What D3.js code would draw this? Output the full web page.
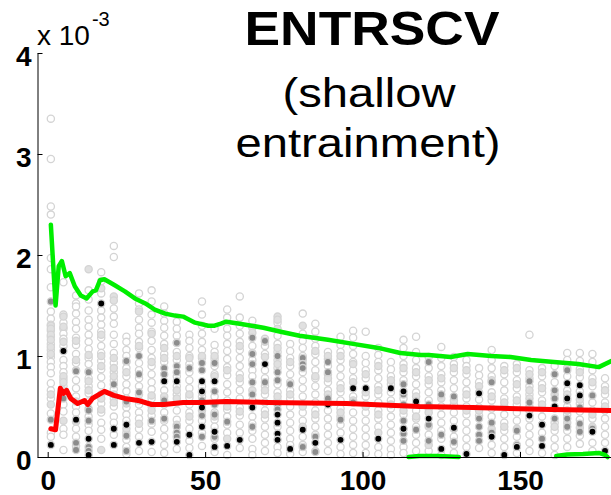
<!DOCTYPE html>
<html>
<head>
<meta charset="utf-8">
<script src="https://cdn.jsdelivr.net/npm/d3@7"></script>
<style>
    body { margin: 0; background: #fff; }
    svg#graph { width: 611px; height: 495px; display: block; }
    .axis path, .axis line { stroke: #000; stroke-width: 1; }
    .axis text { font-family: "Liberation Sans", Arial, sans-serif; font-weight: bold; font-size: 28px; fill: #000; }
    .line { fill: none; stroke-linejoin: round; stroke-linecap: round; }
    .line.upper, .line.low { stroke: #00ee00; stroke-width: 4.5; }
    .line.mean { stroke: #ff0000; stroke-width: 5; }
    .title text { font-family: "Liberation Sans", Arial, sans-serif; fill: #000; text-anchor: middle; }
</style>
</head>
<body>
<svg id="graph"></svg>
<script>
// scatter columns (x) and values per column, in units of 1e-3
var colX = [1, 5, 9, 13, 17, 21, 25, 29, 33, 37, 41, 45, 49, 53, 57, 61, 65, 69, 73, 77, 81, 85, 89,
    93, 97, 101, 105, 109, 113, 117, 121, 125, 129, 133, 137, 141, 145, 149, 153, 157, 161, 165, 169, 173, 177];

var openVals = [
    [3.35, 2.95, 2.48, 2.40, 1.97, 1.86, 1.68, 1.44, 1.37, 1.31, 1.25, 1.19, 1.12, 1.06, 0.99, 0.94, 0.89, 0.83, 0.73, 0.66, 0.58, 0.43, 0.24, 0.20],
    [1.73, 1.41, 1.33, 1.27, 1.22, 1.17, 1.10, 0.96, 0.90, 0.84, 0.77, 0.70, 0.61, 0.52, 0.45, 0.28, 0.22, 0.07],
    [1.60, 1.52, 1.49, 1.42, 1.34, 1.27, 1.18, 1.11, 1.02, 0.93, 0.86, 0.76, 0.68, 0.60, 0.50, 0.44, 0.28, 0.20, 0.11],
    [1.65, 1.56, 1.45, 1.36, 1.29, 1.21, 1.14, 1.07, 0.98, 0.92, 0.85, 0.78, 0.70, 0.63, 0.55, 0.40, 0.32, 0.26],
    [1.83, 1.74, 1.62, 1.45, 1.38, 1.31, 1.24, 1.18, 1.10, 1.03, 0.95, 0.87, 0.79, 0.71, 0.62, 0.53, 0.44, 0.34, 0.27, 0.18],
    [2.09, 1.98, 1.47, 1.39, 1.32, 1.21, 1.12, 1.03, 0.93, 0.84, 0.76, 0.67, 0.58, 0.50, 0.40, 0.34, 0.22],
    [1.19, 1.14, 1.06, 1.00, 0.94, 0.88, 0.80, 0.72, 0.65, 0.58, 0.49, 0.42, 0.36, 0.24, 0.17, 0.10, 0.03],
    [1.62, 1.52, 1.46, 1.36, 1.28, 1.22, 1.14, 1.08, 0.93, 0.86, 0.78, 0.70, 0.62, 0.52, 0.44, 0.38, 0.28, 0.20, 0.06],
    [1.65, 1.54, 1.41, 1.33, 1.24, 1.15, 1.06, 0.98, 0.90, 0.82, 0.74, 0.67, 0.58, 0.50, 0.41, 0.33, 0.25, 0.05],
    [1.49, 1.42, 1.35, 1.28, 1.20, 1.12, 1.02, 0.94, 0.66, 0.52, 0.44, 0.36, 0.28, 0.20, 0.12, 0.04],
    [1.34, 1.27, 1.20, 1.13, 1.04, 0.96, 0.80, 0.70, 0.62, 0.54, 0.46, 0.37, 0.08],
    [1.21, 1.15, 1.08, 1.00, 0.92, 0.84, 0.76, 0.68, 0.59, 0.52, 0.44, 0.36, 0.28, 0.16, 0.09],
    [1.54, 1.41, 1.30, 1.22, 1.14, 1.06, 0.98, 0.70, 0.60, 0.36, 0.24, 0.11],
    [1.27, 1.11, 1.04, 0.97, 0.90, 0.82, 0.60, 0.44, 0.37, 0.30, 0.18, 0.05],
    [1.46, 1.38, 1.27, 1.20, 1.12, 1.05, 0.97, 0.89, 0.81, 0.72, 0.64, 0.56, 0.47, 0.40, 0.32, 0.24, 0.02],
    [1.59, 1.38, 1.30, 1.22, 1.14, 1.06, 0.98, 0.90, 0.82, 0.74, 0.66, 0.58, 0.49, 0.41, 0.32, 0.24, 0.09],
    [1.35, 1.10, 1.03, 0.96, 0.86, 0.80, 0.56, 0.40, 0.33, 0.26, 0.18, 0.08, 0.02],
    [1.17, 1.10, 1.02, 0.86, 0.78, 0.70, 0.62, 0.54, 0.46, 0.38, 0.30, 0.22, 0.14, 0.06],
    [1.33, 1.20, 1.12, 1.04, 0.96, 0.88, 0.72, 0.64, 0.56, 0.30, 0.10, 0.04],
    [1.12, 1.05, 0.98, 0.90, 0.82, 0.74, 0.66, 0.58, 0.50, 0.42, 0.34, 0.26, 0.18, 0.12, 0.03],
    [1.42, 1.22, 1.15, 1.08, 1.00, 0.84, 0.76, 0.68, 0.60, 0.52, 0.44, 0.36, 0.20, 0.12, 0.05],
    [1.32, 1.24, 1.17, 1.10, 1.02, 0.94, 0.86, 0.78, 0.70, 0.62, 0.54, 0.46, 0.38, 0.30, 0.22, 0.06],
    [1.04, 0.97, 0.90, 0.82, 0.74, 0.66, 0.46, 0.38, 0.30, 0.22, 0.14, 0.06],
    [1.19, 1.11, 1.04, 0.96, 0.88, 0.80, 0.72, 0.64, 0.56, 0.48, 0.40, 0.32, 0.24, 0.10, 0.03],
    [1.25, 1.18, 1.10, 1.02, 0.94, 0.86, 0.78, 0.60, 0.44, 0.36, 0.28, 0.20, 0.12, 0.04],
    [1.24, 1.00, 0.93, 0.86, 0.78, 0.60, 0.52, 0.44, 0.36, 0.28, 0.20, 0.12, 0.04],
    [1.08, 1.01, 0.94, 0.86, 0.78, 0.70, 0.62, 0.54, 0.46, 0.38, 0.30, 0.10, 0.03],
    [0.94, 0.87, 0.80, 0.72, 0.64, 0.56, 0.48, 0.40, 0.32, 0.24, 0.16, 0.08, 0.02],
    [1.16, 1.08, 1.00, 0.92, 0.84, 0.76, 0.58, 0.42, 0.10, 0.04],
    [1.19, 1.04, 0.96, 0.88, 0.80, 0.72, 0.64, 0.46, 0.38, 0.30, 0.22, 0.14, 0.06],
    [0.99, 0.88, 0.80, 0.72, 0.64, 0.56, 0.48, 0.22, 0.06],
    [1.09, 0.98, 0.90, 0.82, 0.74, 0.66, 0.50, 0.42, 0.34, 0.26, 0.18, 0.02],
    [0.99, 0.92, 0.84, 0.76, 0.68, 0.52, 0.44, 0.36, 0.20, 0.12, 0.04],
    [0.96, 0.90, 0.82, 0.74, 0.66, 0.58, 0.50, 0.42, 0.34, 0.26, 0.18, 0.10],
    [0.88, 0.81, 0.74, 0.57, 0.49, 0.41, 0.09],
    [1.06, 0.96, 0.88, 0.80, 0.64, 0.56, 0.48, 0.40, 0.12, 0.04],
    [0.90, 0.82, 0.74, 0.66, 0.58, 0.50, 0.42, 0.34, 0.26, 0.18, 0.10],
    [0.92, 0.84, 0.76, 0.68, 0.60, 0.52, 0.44, 0.36, 0.20, 0.04],
    [1.21, 0.86, 0.78, 0.70, 0.62, 0.46, 0.38, 0.30, 0.22, 0.14, 0.06],
    [0.88, 0.80, 0.72, 0.64, 0.56, 0.48, 0.40, 0.24, 0.04],
    [0.90, 0.74, 0.34, 0.26, 0.18, 0.10, 0.02],
    [1.03, 0.96, 0.88, 0.80, 0.66, 0.50, 0.42, 0.26, 0.18, 0.10],
    [1.03, 0.95, 0.87, 0.79, 0.65, 0.53, 0.45, 0.37, 0.21, 0.13],
    [1.02, 0.94, 0.86, 0.78, 0.70, 0.54, 0.46, 0.38, 0.14, 0.06],
    [0.78, 0.70, 0.62, 0.54, 0.46, 0.38, 0.30, 0.22, 0.14]
];

var paleVals = [
    [1.30, 1.27, 1.21, 1.16, 1.09, 1.02, 0.62, 0.52],
    [1.39, 1.29, 1.14, 0.80, 0.74, 0.66, 0.36],
    [1.15, 0.96, 0.55, 0.35],
    [1.86, 1.01, 0.75, 0.66],
    [1.67, 1.21, 1.00, 0.90, 0.58, 0.47, 0.07],
    [1.59, 1.55, 0.98, 0.88, 0.80, 0.62, 0.54],
    [0.84, 0.53, 0.28],
    [1.44, 1.10, 0.56, 0.33],
    [1.22, 0.94, 0.61, 0.46],
    [1.08, 0.98, 0.60],
    [1.00, 0.66, 0.58, 0.32],
    [0.98, 0.62, 0.40],
    [1.00, 0.46, 0.64],
    [1.00, 0.80, 0.40],
    [0.86, 0.50, 0.18],
    [1.10, 0.78, 0.45],
    [1.28, 1.23, 0.66, 0.50],
    [1.14, 0.99, 0.66, 0.42],
    [1.39, 1.36, 1.27, 1.08, 0.92, 0.60],
    [0.94, 0.62],
    [1.30, 0.96, 0.50, 0.30],
    [1.05, 0.80, 0.42],
    [1.00, 0.78, 0.62],
    [1.00, 0.68, 0.44],
    [0.92, 0.74, 0.56],
    [0.82, 0.50, 0.64],
    [0.90, 0.66, 0.42, 0.24],
    [0.76, 0.52],
    [0.88, 0.46, 0.28],
    [0.84, 0.60, 0.40],
    [0.76, 0.44, 0.30, 0.12],
    [0.78, 0.58],
    [0.88, 0.56, 0.28],
    [0.86, 0.62, 0.46],
    [0.70, 0.46, 0.64],
    [0.76, 0.60, 0.28],
    [0.86, 0.54, 0.30],
    [0.88, 0.72, 0.56, 0.28],
    [0.82, 0.66, 0.58, 0.50],
    [0.84, 0.68, 0.52],
    [0.62, 0.30, 0.48],
    [0.62, 0.46, 0.34],
    [0.84, 0.57, 0.29],
    [0.74, 0.42, 0.30],
    [0.66, 0.50]
];

var midVals = [
    [1.54, 0.37], [0.58], [0.85, 0.14, 0.07], [0.84, 0.48, 0.46, 0.36, 0.10, 0.06], [], [0.72], [0.95, 0.55, 0.21, 0.06],
    [1.00, 0.82, 0.64], [0.36], [0.88, 0.82, 0.56, 0.38], [1.13, 0.90, 0.84, 0.30, 0.24, 0.20], [0.88],
    [0.93, 0.86, 0.56, 0.41, 0.20], [0.93, 0.65, 0.52, 0.42, 0.20], [0.35], [], [1.18, 1.02, 0.92, 0.74, 0.62, 0.30],
    [1.15, 0.74], [1.00, 0.84, 0.76, 0.52, 0.47], [0.72], [0.98, 0.92, 0.88, 0.10], [0.20, 0.05],
    [0.94, 0.84, 0.58], [0.37], [0.54], [], [], [], [0.72, 0.62, 0.52, 0.36, 0.23, 0.16], [0.27],
    [0.94, 0.52, 0.32, 0.16], [0.62, 0.22], [0.60, 0.28, 0.15], [], [0.38, 0.30, 0.22, 0.16], [0.74, 0.34, 0.24],
    [], [0.26, 0.12], [0.75, 0.54], [0.32, 0.18], [0.82, 0.66, 0.58, 0.38], [0.86, 0.56, 0.38, 0.30],
    [0.49, 0.33, 0.25], [0.61, 0.28], []
];

var blackVals = [
    [0.12], [1.05], [0.37], [0.18, 0.02], [1.52], [0.28, 0.12], [0.32], [0.14], [0.15], [0.75], [0.75, 0.15],
    [0.22, 0.02], [0.75, 0.65, 0.49, 0.30], [0.75, 0.25, 0.10], [0.11], [0.17], [0.49], [0.92],
    [0.42, 0.34, 0.23, 0.17], [0.08], [0.27], [0.14], [0.52], [0.17], [0.68], [0.68], [0.18], [0.68],
    [0.65, 0.28], [0.55], [0.38], [0.08], [0.29], [0.03], [0.63], [0.20], [0.02], [0.10], [0.41],
    [0.32, 0.11], [0.50], [0.73, 0.58], [0.71, 0.61], [0.25], [0.06]
];

// running lines
var upperX = [1, 2.5, 3.5, 4.5, 5.7, 7, 8.6, 10.5, 12.4, 13.2, 14.3, 15.3, 16.6, 18, 21.3, 24.5, 27.7, 31, 34, 37.3,
    40.4, 43, 46.8, 51, 53, 55, 56.7, 61, 68.5, 74, 80, 89, 97, 105, 112, 118.5, 121, 128, 133.4, 140.8, 147,
    153.5, 160.8, 168.5, 175, 179];
var upperY = [2.30, 1.50, 1.89, 1.94, 1.79, 1.82, 1.69, 1.60, 1.57, 1.60, 1.64, 1.65, 1.75, 1.76, 1.70, 1.64, 1.57,
    1.52, 1.46, 1.42, 1.40, 1.39, 1.33, 1.30, 1.30, 1.32, 1.34, 1.32, 1.28, 1.24, 1.20, 1.16, 1.12, 1.08, 1.03,
    1.01, 1.01, 0.99, 1.02, 1.00, 0.99, 0.96, 0.94, 0.92, 0.89, 0.95];

var meanX = [1, 2.5, 4, 5, 6, 7.3, 9.5, 11.7, 12.7, 14.2, 18, 21, 24.5, 28.7, 33, 37, 43, 49, 56.7, 70, 95, 118, 135, 160, 179];
var meanY = [0.28, 0.27, 0.68, 0.63, 0.66, 0.58, 0.53, 0.56, 0.52, 0.58, 0.65, 0.61, 0.58, 0.56, 0.52, 0.52, 0.54,
    0.54, 0.55, 0.54, 0.53, 0.50, 0.49, 0.47, 0.46];

var lowAX = [114.6, 118, 124, 130.6];
var lowAY = [0.00, 0.01, 0.01, 0.00];
var lowBX = [161.5, 165, 170, 175, 177, 177.8];
var lowBY = [0.01, 0.025, 0.03, 0.04, 0.02, 0.00];

var yTicks = [0, 1, 2, 3, 4];
var xTicks = [0, 50, 100, 150];

var graph = (function () {
    function create() {
        var svg = d3.select("svg#graph");

        var x = d3.scaleLinear().domain([-3.24, 178.9]).range([37.5, 611]),
            y = d3.scaleLinear().domain([0, 4]).range([457, 53]);

        // flatten the columns into points, light ones first
        var points = [];
        var shades = [
            {vals: openVals, fill: "#ffffff"},
            {vals: paleVals, fill: "#e0e0e0"},
            {vals: midVals, fill: "#8c8c8c"},
            {vals: blackVals, fill: "#000000"}
        ];
        shades.forEach(function (s) {
            colX.forEach(function (cx, i) {
                s.vals[i].forEach(function (v) {
                    points.push({x: cx, v: v, fill: s.fill});
                });
            });
        });

        svg.append("g")
            .attr("class", "points")
            .selectAll("circle")
            .data(points)
            .enter().append("circle")
            .attr("cx", function (d) { return x(d.x); })
            .attr("cy", function (d) { return y(d.v); })
            .attr("r", 3.6)
            .attr("fill", function (d) { return d.fill; })
            .attr("stroke", "#d4d4d4")
            .attr("stroke-width", 1.3);

        var line = d3.line()
            .x(function (d) { return x(d[0]); })
            .y(function (d) { return y(d[1]); });

        svg.append("path")
            .attr("class", "line upper")
            .attr("d", line(d3.zip(upperX, upperY)));

        svg.append("path")
            .attr("class", "line mean")
            .attr("d", line(d3.zip(meanX, meanY)));

        svg.append("path")
            .attr("class", "line low")
            .attr("d", line(d3.zip(lowAX, lowAY)));

        svg.append("path")
            .attr("class", "line low")
            .attr("d", line(d3.zip(lowBX, lowBY)));

        // axes, MATLAB style: ticks point inward
        var xAxis = d3.axisBottom(x).tickValues(xTicks).tickFormat(d3.format("d"))
                .tickSizeInner(-5).tickSizeOuter(0).tickPadding(13),
            yAxis = d3.axisLeft(y).tickValues(yTicks).tickFormat(d3.format("d"))
                .tickSizeInner(-5).tickSizeOuter(0).tickPadding(6);

        svg.append("g")
            .attr("class", "x axis")
            .attr("transform", "translate(0,457)")
            .call(xAxis);

        var gy = svg.append("g")
            .attr("class", "y axis")
            .attr("transform", "translate(37.5,0)")
            .call(yAxis);
        gy.selectAll("text").attr("dy", "0.45em");
        svg.selectAll(".axis").attr("font-size", null).attr("font-family", null);

        // exponent label
        var expo = svg.append("text")
            .attr("x", 37)
            .attr("y", 45)
            .attr("font-family", "Liberation Sans, Arial, sans-serif")
            .attr("font-size", 28)
            .text("x 10");
        expo.append("tspan")
            .attr("font-size", 20)
            .attr("dy", -19)
            .attr("dx", 2)
            .text("-3");

        // title block
        var title = svg.append("g").attr("class", "title");
        title.append("text")
            .attr("x", 372)
            .attr("y", 45)
            .attr("font-size", 49)
            .attr("font-weight", "bold")
            .attr("textLength", 255)
            .attr("lengthAdjust", "spacingAndGlyphs")
            .text("ENTRSCV");
        title.append("text")
            .attr("x", 369)
            .attr("y", 107)
            .attr("font-size", 40)
            .attr("textLength", 173)
            .attr("lengthAdjust", "spacingAndGlyphs")
            .text("(shallow");
        title.append("text")
            .attr("x", 368)
            .attr("y", 157)
            .attr("font-size", 40)
            .attr("textLength", 265)
            .attr("lengthAdjust", "spacingAndGlyphs")
            .text("entrainment)");
    }

    return {
        create: create
    };
})();

graph.create();
</script>
</body>
</html>
